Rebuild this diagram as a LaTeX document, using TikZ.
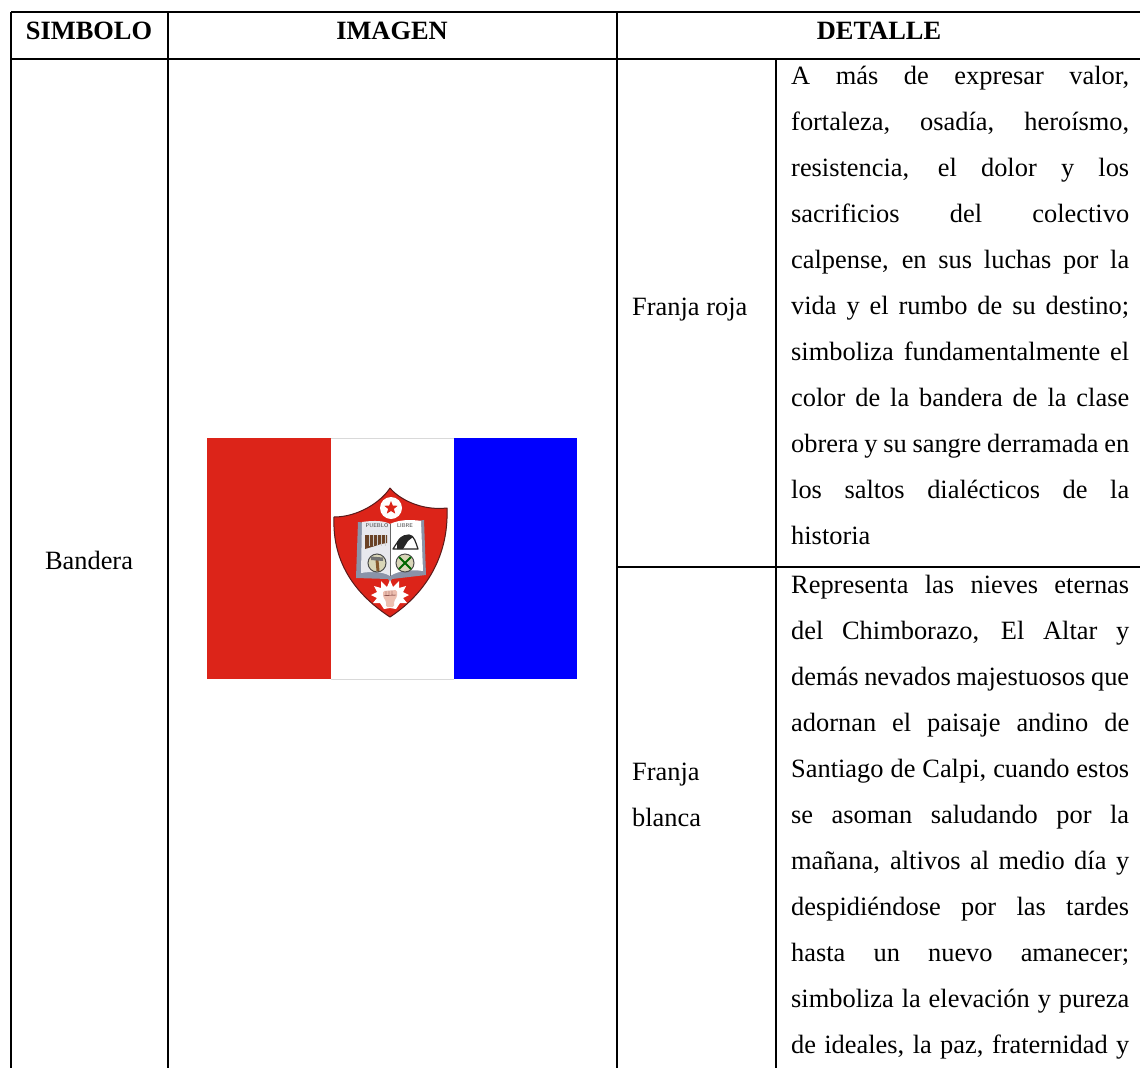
\documentclass[tikz,border=0pt]{standalone}
\usepackage{fontspec}
\setmainfont{Liberation Serif}
\newcommand{\jl}[1]{\leavevmode\hbox to 338pt{\spaceskip=0pt\xspaceskip=0pt\relax #1}}
\definecolor{flagred}{HTML}{DC2419}
\definecolor{crestdark}{HTML}{5A1A1A}
\definecolor{pagepale}{HTML}{E8E8EE}
\definecolor{bookblue}{HTML}{8A93A8}
\definecolor{flute}{HTML}{6B4226}
\definecolor{fistpink}{HTML}{EDBFB0}
\definecolor{disk}{HTML}{D9D6B8}
\tikzset{
 x=1pt,y=-1pt,
 rule/.style={line width=1.6pt,black},
 head/.style={font=\fontsize{26.4}{30}\selectfont\bfseries,anchor=base,inner sep=0pt},
 label/.style={font=\fontsize{26.4}{30}\selectfont,anchor=base west,inner sep=0pt},
 lab/.style={font=\fontsize{26.4}{30}\selectfont,anchor=base,inner sep=0pt},
 body/.style={font=\fontsize{26.4}{46}\selectfont,anchor=north west,inner sep=0pt,align=left,text width=346pt},
 tiny/.style={font=\fontsize{5.5}{6}\selectfont\sffamily,inner sep=0pt,text=black!75},
}
\begin{document}
\begin{tikzpicture}
\useasboundingbox (0,0) rectangle (1140,1068);
\fill[white] (0,0) rectangle (1140,1068);
% rules
\draw[rule] (11,12) -- (1140,12);
\draw[rule] (11,59) -- (1140,59);
\draw[rule] (617,567) -- (1140,567);
\draw[rule] (11,12) -- (11,1068);
\draw[rule] (168,12) -- (168,1068);
\draw[rule] (617,12) -- (617,1068);
\draw[rule] (776,59) -- (776,1068);
% heads
\node[head] (h1) at (89,39) {SIMBOLO};
\node[head] (h2) at (392,39) {IMAGEN};
\node[head] (h3) at (879,39) {DETALLE};
\node[lab] (band) at (89,569.5) {Bandera};
\node[label] (roja) at (632,315) {Franja roja};
\node[label] (bl1) at (632,780) {Franja};
\node[label] (bl2) at (632,826) {blanca};
\node[body] (t1) at (791,65.5) {\jl{A más de expresar valor,}\\\jl{fortaleza, osadía, heroísmo,}\\\jl{resistencia, el dolor y los}\\\jl{sacrificios del colectivo}\\\jl{calpense, en sus luchas por la}\\\jl{vida y el rumbo de su destino;}\\\jl{simboliza fundamentalmente el}\\\jl{color de la bandera de la clase}\\\jl{obrera y su sangre derramada en}\\\jl{los saltos dialécticos de la}\\historia};
\node[body] (t2) at (791,574.5) {\jl{Representa las nieves eternas}\\\jl{del Chimborazo, El Altar y}\\\jl{demás nevados majestuosos que}\\\jl{adornan el paisaje andino de}\\\jl{Santiago de Calpi, cuando estos}\\\jl{se asoman saludando por la}\\\jl{mañana, altivos al medio día y}\\\jl{despidiéndose por las tardes}\\\jl{hasta un nuevo amanecer;}\\\jl{simboliza la elevación y pureza}\\\jl{de ideales, la paz, fraternidad y}};
% flag
\fill[flagred] (207,438) rectangle (331,679);
\fill[blue] (454,438) rectangle (577,679);
\draw[black!15,line width=.8pt] (331,438) -- (454,438) (331,679) -- (454,679);
% shield
\draw[crestdark,fill=flagred,line width=1pt,line join=round]
 (390,488) .. controls (398,498) and (420,511) .. (447,508)
 .. controls (449,560) and (422,596) .. (390,617)
 .. controls (358,596) and (332,565) .. (334,517)
 .. controls (358,517) and (381,502) .. (390,488) -- cycle;
% star disc
\fill[white] (391,508) circle (11);
\fill[flagred] (391,501) -- (392.8,505.6) -- (397.7,505.8) -- (393.9,508.9) -- (395.2,513.6) -- (391,511) -- (386.8,513.6) -- (388.1,508.9) -- (384.3,505.8) -- (389.2,505.6) -- cycle;
% book
\fill[bookblue] (356,578) -- (358,522) -- (390,525) -- (424,520) -- (426,575) -- (392,579) -- (390,582) -- (388,579) -- cycle;
\fill[pagepale] (361,573) -- (362,522) .. controls (375,520) and (385,521) .. (390,524) -- (390,576) .. controls (384,572) and (372,571) .. (361,573) -- cycle;
\fill[white] (390,524) .. controls (398,520) and (410,519) .. (421,521) -- (423,571) .. controls (410,569) and (398,571) .. (390,576) -- cycle;
\draw[black!60,line width=.6pt] (390,524) -- (390,576);
\node[tiny] (pu) at (377,526) {PUEBLO};
\node[tiny] (li) at (405,526) {LIBRE};
% pan flute
\fill[flute] (365,535) -- (387,535) -- (387,543) -- (381,544) -- (375,546) -- (365,549) -- cycle;
\foreach \xx in {369,373,377,381,385} \draw[black!20,line width=.4pt] (\xx,535) -- (\xx,546);
% helmet
\draw[black!85,fill=white,line width=1.2pt,line join=round] (393,549) .. controls (398,541) and (402,535) .. (409,535) .. controls (414,535) and (416,543) .. (418,549) -- cycle;
\fill[black!85] (397,542) .. controls (401,534) and (408,533) .. (413,537) -- (408,541) -- (403,549) -- (397,549) -- cycle;
% hammer disc
\draw[black!70,fill=disk,line width=1pt] (377,563) circle (9);
\fill[brown!70!black] (375.5,560) -- (378.5,560) -- (379.5,571) -- (376.5,571) -- cycle;
\fill[black!55] (371,556.5) -- (383,557.5) -- (383,561) -- (371,560) -- cycle;
% sickle disc
\draw[black!70,fill=disk,line width=1pt] (405,563) circle (9);
\draw[green!40!black,line width=1.8pt] (399,557) -- (411,569) (411,557) -- (399,569);
% starburst and fist
\fill[white] (390,580) -- (393,587) -- (399,581) -- (399,588) -- (406,586) -- (403,592) -- (409,595) -- (403,598) -- (407,603) -- (400,603) -- (396,609) -- (390,608) -- (384,609) -- (380,603) -- (373,603) -- (377,598) -- (371,595) -- (377,592) -- (374,586) -- (381,588) -- (381,581) -- (387,587) -- cycle;
\fill[fistpink,rounded corners=1.5pt] (383,591) -- (397,590) -- (397,597) -- (394,601) -- (394,607) -- (386,607) -- (386,601) -- (383,597) -- cycle;
\draw[crestdark,line width=.4pt] (386,591) -- (386,595) (389,590.5) -- (389,595) (392,590.5) -- (392,595) (384,595.5) -- (396,595);
\end{tikzpicture}
\end{document}
